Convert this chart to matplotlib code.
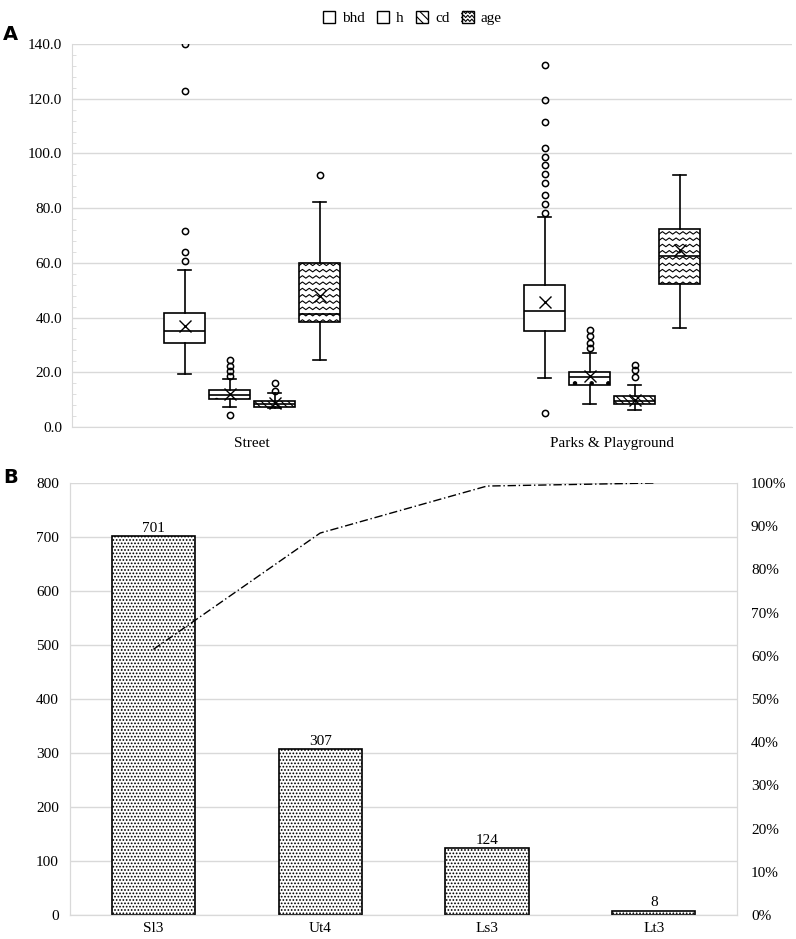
import numpy as np
import matplotlib
matplotlib.use('Agg')
import matplotlib.pyplot as plt
from matplotlib.patches import Patch, Rectangle
from matplotlib.lines import Line2D
from matplotlib.legend_handler import HandlerPatch
from matplotlib.ticker import MultipleLocator, PercentFormatter, FormatStrFormatter

plt.rcParams['font.family'] = ['Liberation Serif', 'DejaVu Serif']
plt.rcParams['hatch.linewidth'] = 0.8

# ---- panel A data (box plot stats) ----
groups = ['Street', 'Parks & Playground']
series = ['bhd', 'h', 'cd', 'age']

street_q1 = [30.6, 10.1, 7.4, 38.3]
street_med = [35.2, 11.7, 8.3, 41.3]
street_q3 = [41.8, 13.5, 9.5, 59.8]
street_lo = [19.3, 7.4, 6.8, 24.5]
street_hi = [57.5, 17.4, 12.3, 82.1]
street_mean = [37.0, 12.0, 8.6, 47.9]
street_fliers = [[140.0, 122.7, 71.8, 63.8, 60.5],
                 [24.3, 22.3, 20.3, 18.6, 4.3],
                 [16.2, 13.3],
                 [92.3]]

parks_q1 = [35.2, 15.2, 8.3, 52.1]
parks_med = [42.5, 18.4, 9.5, 62.5]
parks_q3 = [51.9, 20.2, 11.5, 72.2]
parks_lo = [18.0, 8.3, 6.2, 36.3]
parks_hi = [76.8, 27.2, 15.4, 92.3]
parks_mean = [45.6, 18.6, 9.9, 64.7]
parks_fliers = [[132.2, 119.4, 111.6, 102.1, 98.6, 95.8, 92.6, 89.3, 84.7, 81.4, 78.2, 5.1],
                [35.5, 33.4, 30.8, 28.8],
                [22.7, 20.8, 18.4],
                []]

# ---- panel B data ----
textures = ['Sl3', 'Ut4', 'Ls3', 'Lt3']
counts = [701, 307, 124, 8]

GRID = '#d9d9d9'
hatches = {'bhd': None, 'h': '.', 'cd': '\\\\\\\\\\', 'age': None}


def zigzag_fill(ax, box, x0, x1, y0, y1, dy=2.3, amp=0.9, n_teeth=6):
    """wavy hatch clipped to the box patch (matplotlib has no such hatch)"""
    xs = np.linspace(x0, x1, 2 * n_teeth + 1)
    bumps = np.where(np.arange(len(xs)) % 2 == 0, 0.0, amp)
    y = y0 - dy
    while y < y1 + dy:
        ln, = ax.plot(xs, y + bumps, color='black', lw=0.8, zorder=box.get_zorder() + 0.1)
        ln.set_clip_path(box)
        y += dy


class ZigzagHandler(HandlerPatch):
    def create_artists(self, legend, orig_handle, xdescent, ydescent,
                       width, height, fontsize, trans):
        x0, y0 = -xdescent, -ydescent
        rect = Rectangle((x0, y0), width, height, facecolor='white',
                         edgecolor='black', lw=1.0, transform=trans)
        out = [rect]
        xs = np.linspace(x0, x0 + width, 7)
        for k in range(3):
            yb = y0 + height * (k + 0.3) / 3
            ys = yb + np.where(np.arange(7) % 2 == 0, 0, height * 0.2)
            out.append(Line2D(xs, ys, color='black', lw=0.8, transform=trans))
        return out


fig = plt.figure(figsize=(7.96, 9.39), dpi=100)

# ================= Panel A =================
axA = fig.add_axes([0.0905, 0.5453, 0.9045, 0.4078])
offsets = [-0.1875, -0.0625, 0.0625, 0.1875]
bw = 0.114

group_stats = [
    (street_q1, street_med, street_q3, street_lo, street_hi, street_mean, street_fliers),
    (parks_q1, parks_med, parks_q3, parks_lo, parks_hi, parks_mean, parks_fliers),
]

for s, name in enumerate(series):
    stats = []
    pos = []
    for g, (q1, med, q3, lo, hi, mn, fl) in enumerate(group_stats):
        stats.append(dict(q1=q1[s], med=med[s], q3=q3[s], whislo=lo[s], whishi=hi[s],
                          mean=mn[s], fliers=fl[s], label=name))
        pos.append(g + offsets[s])
    res = axA.bxp(stats, positions=pos, widths=bw, patch_artist=True, showmeans=True,
                  capwidths=bw * 0.32, manage_ticks=False, zorder=3,
                  boxprops=dict(facecolor='white', edgecolor='black', linewidth=1.2,
                                hatch=hatches[name]),
                  medianprops=dict(color='black', linewidth=1.2),
                  whiskerprops=dict(color='black', linewidth=1.2),
                  capprops=dict(color='black', linewidth=1.2),
                  flierprops=dict(marker='o', markerfacecolor='none', markeredgecolor='black',
                                  markersize=4.5, markeredgewidth=1.1),
                  meanprops=dict(marker='x', markeredgecolor='black', markersize=9,
                                 markeredgewidth=1.0))
    if name == 'age':
        for box, st, p in zip(res['boxes'], stats, pos):
            zigzag_fill(axA, box, p - bw / 2, p + bw / 2, st['q1'], st['q3'])

axA.set_xlim(-0.5, 1.5)
axA.set_ylim(0, 140)
axA.yaxis.set_major_locator(MultipleLocator(20))
axA.yaxis.set_minor_locator(MultipleLocator(4))
axA.yaxis.set_major_formatter(FormatStrFormatter('%.1f'))
axA.set_xticks([0, 1])
axA.set_xticklabels(groups)
axA.tick_params(axis='both', which='major', length=0, labelsize=11, pad=7)
axA.tick_params(axis='y', which='minor', length=3, direction='in', color=GRID)
axA.grid(axis='y', color=GRID, lw=1)
axA.set_axisbelow(True)
for side in ['top', 'right']:
    axA.spines[side].set_visible(False)
for side in ['left', 'bottom']:
    axA.spines[side].set_color(GRID)

leg_handles = [Patch(facecolor='white', edgecolor='black', label='bhd'),
               Patch(facecolor='white', edgecolor='black', hatch='.', label='h'),
               Patch(facecolor='white', edgecolor='black', hatch='\\\\\\\\', label='cd'),
               Patch(facecolor='white', edgecolor='black', label='age')]
fig.legend(handles=leg_handles, loc='upper center', bbox_to_anchor=(0.518, 1.003), ncol=4,
           frameon=False, fontsize=11, handlelength=0.8, handleheight=0.8,
           handletextpad=0.45, columnspacing=0.8,
           handler_map={leg_handles[3]: ZigzagHandler()})

# ================= Panel B =================
axB = fig.add_axes([0.088, 0.0256, 0.838, 0.46])
x = np.arange(len(textures))
bars = axB.bar(x, counts, width=0.5, color='white', edgecolor='black', linewidth=1.2,
               hatch='.....', zorder=3)
axB.bar_label(bars, labels=[str(c) for c in counts], padding=1, fontsize=11)
axB.set_xlim(-0.5, len(textures) - 0.5)
axB.set_ylim(0, 800)
axB.yaxis.set_major_locator(MultipleLocator(100))
axB.set_xticks(x)
axB.set_xticklabels(textures)
axB.tick_params(axis='y', length=0, labelsize=11, pad=8)
axB.tick_params(axis='x', length=0, labelsize=11, pad=5)
axB.grid(axis='y', color=GRID, lw=1)
axB.set_axisbelow(True)

cum = np.cumsum(counts) / np.sum(counts)
axB2 = axB.twinx()
axB2.plot(x, cum, color='black', lw=1.0, linestyle=(0, (6, 2, 1, 2)), zorder=4)
axB2.set_ylim(0, 1)
axB2.yaxis.set_major_locator(MultipleLocator(0.1))
axB2.yaxis.set_major_formatter(PercentFormatter(1.0, decimals=0))
axB2.tick_params(axis='y', length=0, labelsize=11, pad=10)

for a in (axB, axB2):
    a.spines['top'].set_visible(False)
    for side in ['left', 'right', 'bottom']:
        a.spines[side].set_color(GRID)

fig.text(0.004, 0.963, 'A', fontsize=14, fontweight='bold', family='DejaVu Sans', va='center')
fig.text(0.004, 0.492, 'B', fontsize=14, fontweight='bold', family='DejaVu Sans', va='center')

fig.savefig('out.png', dpi=100)
